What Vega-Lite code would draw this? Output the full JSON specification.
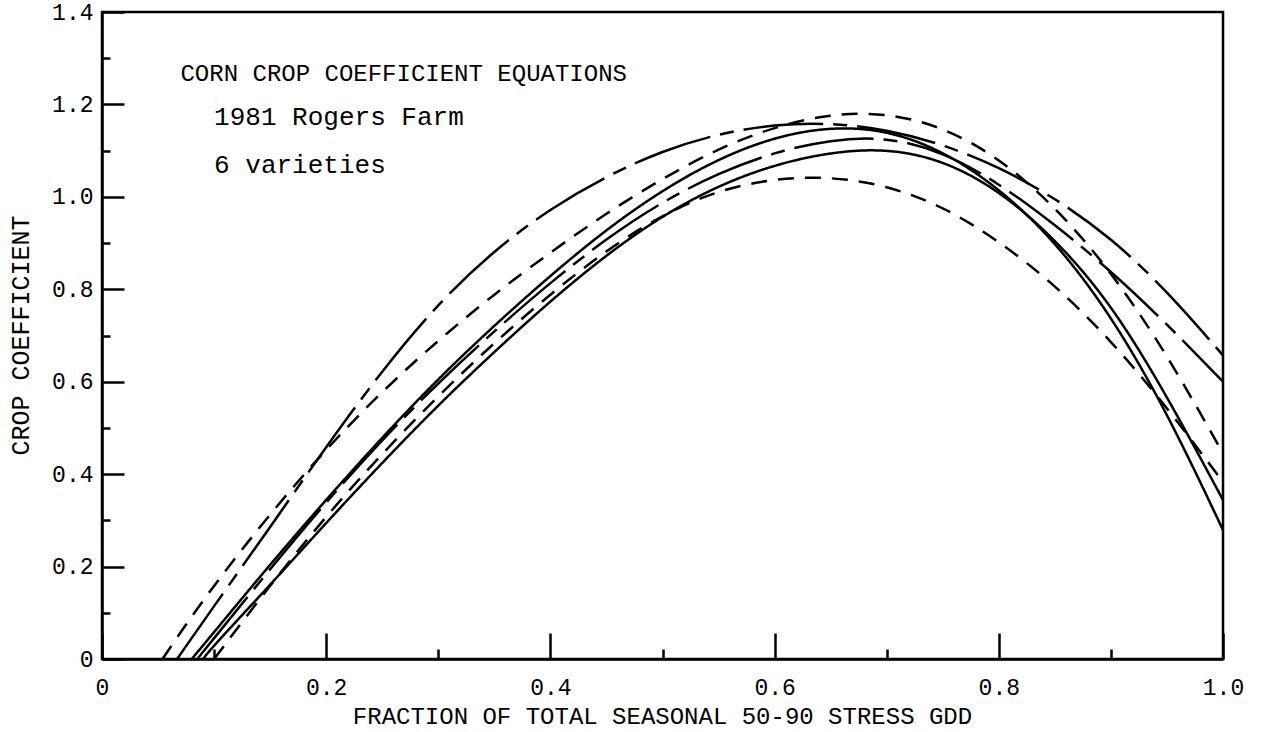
{
  "$schema": "https://vega.github.io/schema/vega-lite/v6.json",
  "width": 1121,
  "height": 647,
  "autosize": {"type": "none"},
  "padding": {"left": 102, "top": 12, "right": 39, "bottom": 73},
  "background": "white",
  "config": {
    "view": {"stroke": "black", "strokeWidth": 2.5},
    "font": "Liberation Mono"
  },
  "datasets": {
    "curves": [
      {"variety": "V1", "x": 0.054, "y": 0}, {"variety": "V1", "x": 0.07, "y": 0.058}, {"variety": "V1", "x": 0.10, "y": 0.16}, {"variety": "V1", "x": 0.15, "y": 0.315}, {"variety": "V1", "x": 0.20, "y": 0.455}, {"variety": "V1", "x": 0.25, "y": 0.58}, {"variety": "V1", "x": 0.30, "y": 0.69}, {"variety": "V1", "x": 0.35, "y": 0.79}, {"variety": "V1", "x": 0.40, "y": 0.88}, {"variety": "V1", "x": 0.45, "y": 0.965}, {"variety": "V1", "x": 0.50, "y": 1.04}, {"variety": "V1", "x": 0.55, "y": 1.105}, {"variety": "V1", "x": 0.60, "y": 1.152}, {"variety": "V1", "x": 0.65, "y": 1.18}, {"variety": "V1", "x": 0.70, "y": 1.182}, {"variety": "V1", "x": 0.75, "y": 1.152}, {"variety": "V1", "x": 0.80, "y": 1.085}, {"variety": "V1", "x": 0.85, "y": 0.98}, {"variety": "V1", "x": 0.90, "y": 0.84}, {"variety": "V1", "x": 0.95, "y": 0.66}, {"variety": "V1", "x": 1.0, "y": 0.445},
      {"variety": "V2", "x": 0.067, "y": 0}, {"variety": "V2", "x": 0.10, "y": 0.115}, {"variety": "V2", "x": 0.15, "y": 0.285}, {"variety": "V2", "x": 0.20, "y": 0.46}, {"variety": "V2", "x": 0.25, "y": 0.625}, {"variety": "V2", "x": 0.30, "y": 0.77}, {"variety": "V2", "x": 0.35, "y": 0.885}, {"variety": "V2", "x": 0.40, "y": 0.975}, {"variety": "V2", "x": 0.45, "y": 1.045}, {"variety": "V2", "x": 0.50, "y": 1.1}, {"variety": "V2", "x": 0.55, "y": 1.137}, {"variety": "V2", "x": 0.60, "y": 1.157}, {"variety": "V2", "x": 0.65, "y": 1.16}, {"variety": "V2", "x": 0.70, "y": 1.146}, {"variety": "V2", "x": 0.75, "y": 1.114}, {"variety": "V2", "x": 0.80, "y": 1.065}, {"variety": "V2", "x": 0.85, "y": 0.998}, {"variety": "V2", "x": 0.90, "y": 0.912}, {"variety": "V2", "x": 0.95, "y": 0.797}, {"variety": "V2", "x": 1.0, "y": 0.657},
      {"variety": "V3", "x": 0.08, "y": 0}, {"variety": "V3", "x": 0.10, "y": 0.058}, {"variety": "V3", "x": 0.15, "y": 0.205}, {"variety": "V3", "x": 0.20, "y": 0.345}, {"variety": "V3", "x": 0.25, "y": 0.48}, {"variety": "V3", "x": 0.30, "y": 0.607}, {"variety": "V3", "x": 0.35, "y": 0.722}, {"variety": "V3", "x": 0.40, "y": 0.83}, {"variety": "V3", "x": 0.45, "y": 0.93}, {"variety": "V3", "x": 0.50, "y": 1.015}, {"variety": "V3", "x": 0.55, "y": 1.083}, {"variety": "V3", "x": 0.60, "y": 1.13}, {"variety": "V3", "x": 0.65, "y": 1.152}, {"variety": "V3", "x": 0.70, "y": 1.145}, {"variety": "V3", "x": 0.75, "y": 1.1}, {"variety": "V3", "x": 0.80, "y": 1.02}, {"variety": "V3", "x": 0.85, "y": 0.905}, {"variety": "V3", "x": 0.90, "y": 0.745}, {"variety": "V3", "x": 0.95, "y": 0.535}, {"variety": "V3", "x": 1.0, "y": 0.279},
      {"variety": "V4", "x": 0.085, "y": 0}, {"variety": "V4", "x": 0.10, "y": 0.045}, {"variety": "V4", "x": 0.15, "y": 0.195}, {"variety": "V4", "x": 0.20, "y": 0.34}, {"variety": "V4", "x": 0.25, "y": 0.475}, {"variety": "V4", "x": 0.30, "y": 0.598}, {"variety": "V4", "x": 0.35, "y": 0.71}, {"variety": "V4", "x": 0.40, "y": 0.815}, {"variety": "V4", "x": 0.45, "y": 0.91}, {"variety": "V4", "x": 0.50, "y": 0.99}, {"variety": "V4", "x": 0.55, "y": 1.052}, {"variety": "V4", "x": 0.60, "y": 1.097}, {"variety": "V4", "x": 0.65, "y": 1.124}, {"variety": "V4", "x": 0.70, "y": 1.13}, {"variety": "V4", "x": 0.75, "y": 1.098}, {"variety": "V4", "x": 0.80, "y": 1.03}, {"variety": "V4", "x": 0.85, "y": 0.94}, {"variety": "V4", "x": 0.90, "y": 0.84}, {"variety": "V4", "x": 0.95, "y": 0.725}, {"variety": "V4", "x": 1.0, "y": 0.60},
      {"variety": "V5", "x": 0.09, "y": 0}, {"variety": "V5", "x": 0.10, "y": 0.03}, {"variety": "V5", "x": 0.15, "y": 0.16}, {"variety": "V5", "x": 0.20, "y": 0.295}, {"variety": "V5", "x": 0.25, "y": 0.425}, {"variety": "V5", "x": 0.30, "y": 0.55}, {"variety": "V5", "x": 0.35, "y": 0.665}, {"variety": "V5", "x": 0.40, "y": 0.775}, {"variety": "V5", "x": 0.45, "y": 0.875}, {"variety": "V5", "x": 0.50, "y": 0.96}, {"variety": "V5", "x": 0.55, "y": 1.025}, {"variety": "V5", "x": 0.60, "y": 1.07}, {"variety": "V5", "x": 0.65, "y": 1.097}, {"variety": "V5", "x": 0.70, "y": 1.105}, {"variety": "V5", "x": 0.75, "y": 1.08}, {"variety": "V5", "x": 0.80, "y": 1.015}, {"variety": "V5", "x": 0.85, "y": 0.91}, {"variety": "V5", "x": 0.90, "y": 0.77}, {"variety": "V5", "x": 0.95, "y": 0.57}, {"variety": "V5", "x": 1.0, "y": 0.344},
      {"variety": "V6", "x": 0.10, "y": 0}, {"variety": "V6", "x": 0.15, "y": 0.16}, {"variety": "V6", "x": 0.20, "y": 0.31}, {"variety": "V6", "x": 0.25, "y": 0.445}, {"variety": "V6", "x": 0.30, "y": 0.57}, {"variety": "V6", "x": 0.35, "y": 0.685}, {"variety": "V6", "x": 0.40, "y": 0.79}, {"variety": "V6", "x": 0.45, "y": 0.885}, {"variety": "V6", "x": 0.50, "y": 0.962}, {"variety": "V6", "x": 0.55, "y": 1.015}, {"variety": "V6", "x": 0.60, "y": 1.04}, {"variety": "V6", "x": 0.65, "y": 1.044}, {"variety": "V6", "x": 0.70, "y": 1.025}, {"variety": "V6", "x": 0.75, "y": 0.98}, {"variety": "V6", "x": 0.80, "y": 0.905}, {"variety": "V6", "x": 0.85, "y": 0.81}, {"variety": "V6", "x": 0.90, "y": 0.69}, {"variety": "V6", "x": 0.95, "y": 0.545}, {"variety": "V6", "x": 1.0, "y": 0.383}
    ],
    "heading": [
      {"x": 0.07, "y": 1.265, "text": "CORN CROP COEFFICIENT EQUATIONS"}
    ],
    "notes": [
      {"x": 0.10, "y": 1.172, "text": "1981 Rogers Farm"},
      {"x": 0.10, "y": 1.07, "text": "6 varieties"}
    ]
  },
  "layer": [
    {
      "data": {"name": "curves"},
      "mark": {"type": "line", "interpolate": "basis", "color": "black", "strokeWidth": 2.5},
      "encoding": {
        "x": {
          "field": "x", "type": "quantitative",
          "scale": {"domain": [0, 1], "nice": false, "zero": false},
          "axis": {
            "values": [0, 0.1, 0.2, 0.3, 0.4, 0.5, 0.6, 0.7, 0.8, 0.9, 1.0],
            "labelExpr": "round(datum.value*10) % 2 == 0 ? (datum.value == 0 ? '0' : format(datum.value, '.1f')) : ''",
            "tickSize": {"condition": {"test": "round(datum.value*10) % 2 == 0", "value": -26}, "value": -10},
            "tickColor": "black", "tickWidth": 2.5,
            "domainColor": "black", "domainWidth": 2.5,
            "grid": false,
            "labelFont": "Liberation Mono", "labelFontSize": 23, "labelColor": "black",
            "labelPadding": 43, "labelOverlap": false, "labelFlush": false,
            "title": "FRACTION OF TOTAL SEASONAL 50-90 STRESS GDD",
            "titleFont": "Liberation Mono", "titleFontSize": 24, "titleFontWeight": "normal", "titleColor": "black",
            "titleX": 560, "titleY": 57, "titleAlign": "center", "titleBaseline": "middle"
          }
        },
        "y": {
          "field": "y", "type": "quantitative",
          "scale": {"domain": [0, 1.4], "nice": false, "zero": false},
          "axis": {
            "values": [0, 0.1, 0.2, 0.3, 0.4, 0.5, 0.6, 0.7, 0.8, 0.9, 1.0, 1.1, 1.2, 1.3, 1.4],
            "labelExpr": "round(datum.value*10) % 2 == 0 ? (datum.value == 0 ? '0' : format(datum.value, '.1f')) : ''",
            "tickSize": {"condition": {"test": "round(datum.value*10) % 2 == 0", "value": -22}, "value": -8},
            "tickColor": "black", "tickWidth": 2.5,
            "domainColor": "black", "domainWidth": 2.5,
            "grid": false,
            "labelFont": "Liberation Mono", "labelFontSize": 23, "labelColor": "black",
            "labelPadding": 31, "labelOverlap": false, "labelFlush": false,
            "title": "CROP COEFFICIENT",
            "titleFont": "Liberation Mono", "titleFontSize": 25, "titleFontWeight": "normal", "titleColor": "black",
            "titleX": -82, "titleY": 323, "titleAlign": "center", "titleBaseline": "middle", "titleAngle": -90
          }
        },
        "detail": {"field": "variety", "type": "nominal"},
        "strokeDash": {
          "field": "variety", "type": "nominal",
          "scale": {
            "domain": ["V1", "V2", "V3", "V4", "V5", "V6"],
            "range": [[16, 11], [80, 10, 14, 10], [1, 0], [80, 10, 14, 10], [1, 0], [16, 11]]
          },
          "legend": null
        }
      }
    },
    {
      "data": {"name": "heading"},
      "mark": {"type": "text", "align": "left", "baseline": "middle", "font": "Liberation Mono", "fontSize": 24, "color": "black"},
      "encoding": {
        "x": {"field": "x", "type": "quantitative"},
        "y": {"field": "y", "type": "quantitative"},
        "text": {"field": "text", "type": "nominal"}
      }
    },
    {
      "data": {"name": "notes"},
      "mark": {"type": "text", "align": "left", "baseline": "middle", "font": "Liberation Mono", "fontSize": 26, "color": "black"},
      "encoding": {
        "x": {"field": "x", "type": "quantitative"},
        "y": {"field": "y", "type": "quantitative"},
        "text": {"field": "text", "type": "nominal"}
      }
    }
  ]
}
